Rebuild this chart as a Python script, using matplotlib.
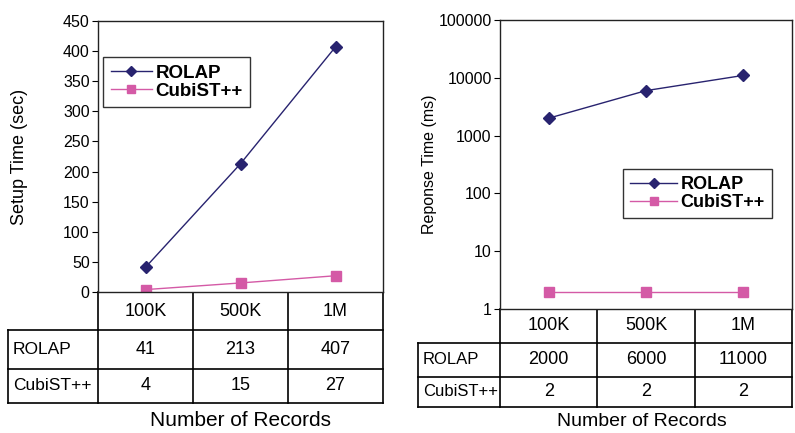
import matplotlib.pyplot as plt
import numpy as np

plt.rcParams['font.family'] = ['Liberation Sans', 'DejaVu Sans']

# Datos de los dos experimentos
registros = ['100K', '500K', '1M']
series = ['ROLAP', 'CubiST++']
setup_rolap = [41, 213, 407]
setup_cubist = [4, 15, 27]
resp_rolap = [2000, 6000, 11000]
resp_cubist = [2, 2, 2]

color_rolap = '#28236f'
color_cubist = '#d45aa6'

W, H = 795, 433
fig = plt.figure(figsize=(W / 100, H / 100), dpi=100)


def rect(x0, x1, y0, y1):
    # caja en pixeles -> fraccion de figura
    return [x0 / W, 1 - y1 / H, (x1 - x0) / W, (y1 - y0) / H]


# capa para dibujar las tablas en pixeles
capa = fig.add_axes([0, 0, 1, 1])
capa.set_xlim(0, W)
capa.set_ylim(H, 0)
capa.axis('off')


def tabla(x_lab, x0, x1, filas_y, valores, fs, fs_lab):
    cols = np.linspace(x0, x1, len(registros) + 1)
    centros = (cols[:-1] + cols[1:]) / 2
    y_top, y_hdr = filas_y[0], filas_y[1]
    kw = dict(color='black', lw=1.2)
    # encabezado
    for c in cols:
        capa.plot([c, c], [y_top, filas_y[-1]], **kw)
    for c, r in zip(centros, registros):
        capa.text(c, (y_top + y_hdr) / 2, r, ha='center', va='center', fontsize=fs)
    # filas con valores
    for y in filas_y[1:]:
        capa.plot([x_lab, x1], [y, y], **kw)
    capa.plot([x_lab, x_lab], [y_hdr, filas_y[-1]], **kw)
    for i, (nombre, vals) in enumerate(zip(series, valores)):
        yc = (filas_y[i + 1] + filas_y[i + 2]) / 2
        capa.text(x_lab + 5, yc, nombre, ha='left', va='center', fontsize=fs_lab)
        for c, v in zip(centros, vals):
            capa.text(c, yc, str(v), ha='center', va='center', fontsize=fs)


def estilo(ax):
    ax.set_xlim(-0.5, len(registros) - 0.5)
    ax.set_xticks([])
    for s in ax.spines.values():
        s.set_linewidth(1.0)
        s.set_color('#222222')
    ax.tick_params(axis='y', direction='out', length=4, width=0.8, labelsize=11.5, pad=2)
    ax.tick_params(axis='y', which='minor', left=False)


def leyenda(ax, ancla, fs, hl):
    lg = ax.legend(loc='upper left', bbox_to_anchor=ancla, frameon=True, fancybox=False,
                   edgecolor='black', prop={'weight': 'bold', 'size': fs}, handlelength=hl,
                   markerscale=0.8, borderpad=0.4, labelspacing=0.05, handletextpad=0.2,
                   borderaxespad=0)
    lg.get_frame().set_linewidth(1)


x = np.arange(len(registros))

# --- Tiempo de configuracion ---
ax1 = fig.add_axes(rect(98, 383, 21, 292))
ax1.plot(x, setup_rolap, color=color_rolap, lw=1, marker='D', ms=6.5, label='ROLAP')
ax1.plot(x, setup_cubist, color=color_cubist, lw=1, marker='s', ms=7, label='CubiST++')
estilo(ax1)
ax1.set_ylim(0, 450)
ax1.set_yticks(np.arange(0, 451, 50))
ax1.set_ylabel('Setup Time (sec)', fontsize=13)
ax1.yaxis.set_label_coords(-0.245, 0.5)
leyenda(ax1, (0.018, 0.867), 13.5, 2.2)
tabla(8, 98, 383, [292, 330, 369, 403], [setup_rolap, setup_cubist], 13, 12.5)
capa.text(240, 420, 'Number of Records', ha='center', va='center', fontsize=15)

# --- Tiempo de respuesta ---
ax2 = fig.add_axes(rect(500, 792, 20, 309))
ax2.plot(x, resp_rolap, color=color_rolap, lw=1, marker='D', ms=6.5, label='ROLAP')
ax2.plot(x, resp_cubist, color=color_cubist, lw=1, marker='s', ms=7, label='CubiST++')
estilo(ax2)
ax2.set_yscale('log')
ax2.set_ylim(1, 100000)
ticks = [1, 10, 100, 1000, 10000, 100000]
ax2.set_yticks(ticks)
ax2.set_yticklabels([str(t) for t in ticks])
ax2.tick_params(axis='y', which='minor', left=False)
ax2.set_ylabel('Reponse Time (ms)', fontsize=11.5)
ax2.yaxis.set_label_coords(-0.216, 0.5)
leyenda(ax2, (0.421, 0.484), 13, 2.6)
tabla(418, 500, 792, [309, 343, 377, 407], [resp_rolap, resp_cubist], 13, 12)
capa.text(642, 422, 'Number of Records', ha='center', va='center', fontsize=14)

plt.savefig('out.png', dpi=100)
plt.close()
